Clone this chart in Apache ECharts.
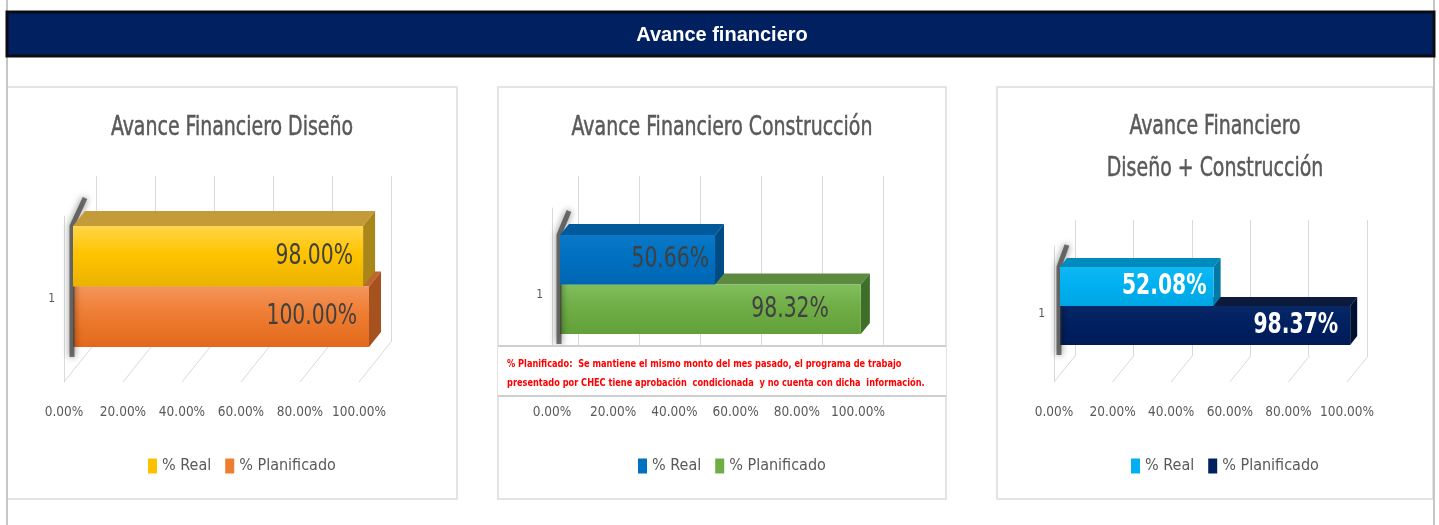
<!DOCTYPE html>
<html>
<head>
<meta charset="utf-8">
<title>Avance financiero</title>
<script src="https://cdn.jsdelivr.net/npm/echarts@6/dist/echarts.min.js"></script>
<style>
  html, body { margin: 0; padding: 0; background: #fff; }
  #main { width: 1439px; height: 525px; }
</style>
</head>
<body>
<div id="main"></div>
<script>
// data
const categories = ["1"];
const tickValues = [0, 0.2, 0.4, 0.6, 0.8, 1];
const seriesNames = ["% Real", "% Planificado"];
const disenoValues = [0.98, 1.0];
const construccionValues = [0.5066, 0.9832];
const totalValues = [0.5208, 0.9837];
const chartTitles = [
  "Avance Financiero Diseño",
  "Avance Financiero Construcción",
  "Avance Financiero\nDiseño + Construcción",
];
const headerTitle = "Avance financiero";
const noteLines = [
  "% Planificado:  Se mantiene el mismo monto del mes pasado, el programa de trabajo",
  "presentado por CHEC tiene aprobación  condicionada  y no cuenta con dicha  información.",
];

const FONT = '"Liberation Sans Narrow", "DejaVu Sans Condensed", "Arial Narrow", sans-serif';
const GRID_LINE = "#d9d9d9";
const TEXT = "#595959";
const SQUEEZE = 0.78; // the source picture is squeezed sideways

// layout and colours of the three panels (Excel 3D bars faked with offsets)
const panels = [
  {
    key: "d", values: disenoValues, title: chartTitles[0],
    box: [7, 87, 450, 412], titleX: 232, titleY: 128,
    front: { left: 64, top: 216, width: 295, height: 166 },
    wall: { left: 96, top: 176, width: 295, height: 166 },
    bars: { left: 73, top: 226, width: 296, height: 121 },
    depth: [32, 40], barDepth: [12, 15],
    legendLeft: 143, labelColor: "#404040", labelWeight: "normal", labelInset: [10, 12],
    colors: [
      { front: ["#ffd54a", "#ffc400", "#ebb200"], top: "#c39b38", side: "#a9861a", legend: "#ffc000" },
      { front: ["#f4945a", "#ee7d33", "#e2691b"], top: "#c0652c", side: "#a5521e", legend: "#ed7d31" },
    ],
  },
  {
    key: "c", values: construccionValues, title: chartTitles[1],
    box: [498, 87, 448, 412], titleX: 722, titleY: 128,
    front: { left: 552, top: 208, width: 306, height: 174 },
    wall: { left: 578, top: 176, width: 305, height: 174 },
    bars: { left: 560, top: 235, width: 306, height: 99 },
    depth: [26, 32], barDepth: [9, 11],
    legendLeft: 633, labelColor: "#404040", labelWeight: "normal", labelInset: [6, 32],
    colors: [
      { front: ["#0a78c6", "#0070c0", "#0066b2"], top: "#005a9c", side: "#004b84", legend: "#0070c0" },
      { front: ["#80bf5c", "#70ad47", "#62a03a"], top: "#5c8b40", side: "#3f6e28", legend: "#70ad47" },
    ],
  },
  {
    key: "t", values: totalValues, title: chartTitles[2],
    box: [997, 87, 436, 412], titleX: 1215, titleY: 148,
    front: { left: 1054, top: 246, width: 293, height: 136 },
    wall: { left: 1075, top: 220, width: 292, height: 136 },
    bars: { left: 1060, top: 267, width: 295, height: 78 },
    depth: [21, 26], barDepth: [7, 9],
    legendLeft: 1126, labelColor: "#ffffff", labelWeight: "bold", labelInset: [7, 12],
    colors: [
      { front: ["#10b8f4", "#00b0f0", "#00a6e4"], top: "#008bbd", side: "#0079a6", legend: "#00b0f0" },
      { front: ["#082766", "#002060", "#001c58"], top: "#0c1a3c", side: "#00112f", legend: "#002060" },
    ],
  },
];

const pct = v => (v * 100).toFixed(2) + "%";

function barRenderer(p, k) {
  return function (params, api) {
    const cs = params.coordSys;
    const [dx, dy] = p.barDepth;
    const h = cs.height / 2;
    const yt = cs.y + k * h;
    const yb = yt + h;
    const x0 = api.coord([0, 0])[0];
    const x1 = api.coord([api.value(0), 0])[0];
    const c = p.colors[k];
    const children = [];
    if (k === 0) {
      children.push({
        type: "polyline",
        shape: { points: [[x0 - 1, cs.y + cs.height + 10], [x0 - 1, yt], [x0 + dx, yt - dy - 13]] },
        style: { stroke: "rgba(60,60,60,0.7)", lineWidth: 5, fill: null, shadowBlur: 7, shadowColor: "rgba(0,0,0,0.7)" },
      });
    }
    children.push(
      {
        type: "polygon",
        shape: { points: [[x0, yt], [x1, yt], [x1 + dx, yt - dy], [x0 + dx, yt - dy]] },
        style: { fill: c.top },
      },
      {
        type: "polygon",
        shape: { points: [[x1, yt], [x1 + dx, yt - dy], [x1 + dx, yb - dy], [x1, yb]] },
        style: { fill: c.side },
      },
      {
        type: "rect",
        shape: { x: x0, y: yt, width: x1 - x0, height: h },
        style: {
          fill: new echarts.graphic.LinearGradient(0, 0, 0, 1, [
            { offset: 0, color: c.front[0] },
            { offset: 0.45, color: c.front[1] },
            { offset: 1, color: c.front[2] },
          ]),
        },
      },
      {
        type: "text",
        x: x1 - p.labelInset[k],
        y: (yt + yb) / 2,
        scaleX: SQUEEZE,
        style: {
          text: pct(api.value(0)),
          x: 0, y: 0,
          align: "right",
          verticalAlign: "middle",
          fill: p.labelColor,
          fontSize: 29,
          fontWeight: p.labelWeight,
          fontFamily: FONT,
        },
      }
    );
    return { type: "group", children };
  };
}

function floorRenderer(p) {
  return function (params, api) {
    const cs = params.coordSys;
    const x = api.coord([api.value(0), 0])[0];
    const yb = cs.y + cs.height;
    return {
      type: "line",
      shape: { x1: x, y1: yb, x2: x + p.depth[0], y2: yb - p.depth[1] },
      style: { stroke: GRID_LINE, lineWidth: 1 },
    };
  };
}

const grid = [];
const xAxis = [];
const yAxis = [];
const series = [];
const legend = [];
const graphic = [];

// outer frame and header
graphic.push(
  { type: "line", shape: { x1: 7, y1: 0, x2: 7, y2: 525 }, style: { stroke: "#c6c6c6", lineWidth: 2 } },
  { type: "line", shape: { x1: 1434, y1: 0, x2: 1434, y2: 525 }, style: { stroke: "#c6c6c6", lineWidth: 2 } },
  {
    type: "rect", shape: { x: 7, y: 12, width: 1427, height: 44 },
    style: { fill: "#002060", stroke: "#0b0b14", lineWidth: 3 },
  },
  {
    type: "text", x: 722, y: 35,
    style: {
      text: headerTitle, fill: "#ffffff", fontSize: 20, fontWeight: "bold",
      fontFamily: '"Liberation Sans", Arial, sans-serif', align: "center", verticalAlign: "middle",
    },
  }
);

panels.forEach((p, i) => {
  const gFront = 3 * i, gWall = 3 * i + 1, gBars = 3 * i + 2;
  const noBounds = { outerBoundsMode: "none", containLabel: false };
  grid.push(
    Object.assign({}, p.front, noBounds),
    Object.assign({}, p.wall, noBounds),
    Object.assign({}, p.bars, noBounds)
  );

  xAxis.push(
    {
      gridIndex: gFront, type: "value", min: 0, max: 1, interval: 0.2,
      axisLine: { show: false }, axisTick: { show: false }, splitLine: { show: false },
      axisLabel: { formatter: pct, margin: 23, color: TEXT, fontSize: 13.5, fontFamily: FONT },
    },
    {
      gridIndex: gWall, type: "value", min: 0, max: 1, interval: 0.2,
      axisLine: { show: false }, axisTick: { show: false }, axisLabel: { show: false },
      splitLine: { show: true, lineStyle: { color: GRID_LINE, width: 1 } },
    },
    { gridIndex: gBars, type: "value", min: 0, max: 1, show: false }
  );
  yAxis.push(
    {
      gridIndex: gFront, type: "category", data: categories,
      axisLine: { show: true, lineStyle: { color: GRID_LINE } }, axisTick: { show: false },
      axisLabel: { margin: 9, color: TEXT, fontSize: 12, fontFamily: FONT },
    },
    { gridIndex: gWall, type: "category", data: categories, show: false },
    { gridIndex: gBars, type: "category", data: categories, show: false }
  );

  series.push({
    type: "custom", xAxisIndex: gFront, yAxisIndex: gFront, silent: true, z: 1,
    data: tickValues.map(v => [v, 0]),
    renderItem: floorRenderer(p),
  });
  seriesNames.forEach((name, k) => {
    series.push({
      name: p.key + "|" + name,
      type: "custom", xAxisIndex: gBars, yAxisIndex: gBars, z: 4 - k,
      itemStyle: { color: p.colors[k].legend },
      data: [[p.values[k], 0]],
      renderItem: barRenderer(p, k),
    });
  });

  legend.push({
    data: seriesNames.map(n => p.key + "|" + n),
    formatter: name => name.split("|")[1],
    left: p.legendLeft, top: 453,
    icon: "rect", itemWidth: 9, itemHeight: 15, itemGap: 14,
    selectedMode: false,
    textStyle: { color: TEXT, fontSize: 16, fontFamily: FONT },
  });

  graphic.push(
    {
      type: "rect", z: -10, silent: true,
      shape: { x: p.box[0], y: p.box[1], width: p.box[2], height: p.box[3] },
      style: { fill: "none", stroke: "#dcdcdc", lineWidth: 1.5 },
    },
    {
      type: "text", x: p.titleX, y: p.titleY, scaleX: SQUEEZE,
      style: {
        text: p.title, fill: TEXT, stroke: TEXT, lineWidth: 0.5,
        fontSize: 27, fontFamily: FONT, lineHeight: 42,
        align: "center", verticalAlign: "middle",
      },
    }
  );
});

// note over the construction chart floor
graphic.push(
  {
    type: "rect", z: 100, shape: { x: 498, y: 346, width: 448, height: 50 },
    style: { fill: "#ffffff" },
  },
  { type: "line", z: 101, shape: { x1: 498, y1: 346, x2: 946, y2: 346 }, style: { stroke: "#cfcfcf", lineWidth: 2 } },
  { type: "line", z: 101, shape: { x1: 498, y1: 396, x2: 946, y2: 396 }, style: { stroke: "#cfcfcf", lineWidth: 2 } },
  {
    type: "text", z: 101, x: 507, y: 374, scaleX: 0.83,
    style: {
      text: noteLines.join("\n"), fill: "#ff0000", fontSize: 11, fontWeight: "bold",
      fontFamily: FONT, lineHeight: 19, align: "left", verticalAlign: "middle",
    },
  }
);

const chart = echarts.init(document.getElementById("main"), null, { renderer: "canvas" });
chart.setOption({
  backgroundColor: "#ffffff",
  animation: false,
  grid, xAxis, yAxis, series, legend, graphic,
});
</script>
</body>
</html>
